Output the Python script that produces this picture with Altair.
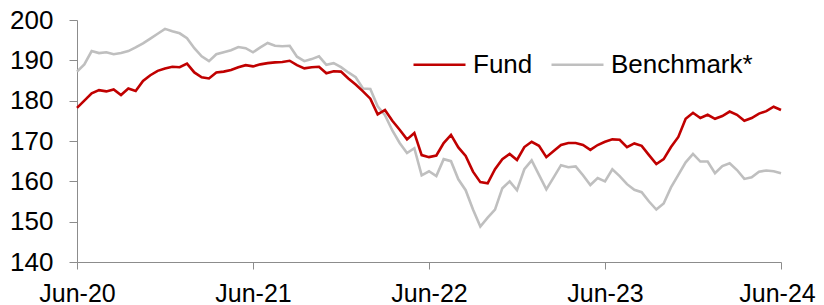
import json
import altair as alt
import pandas as pd

tick_labels = ["Jun-20", "Jun-21", "Jun-22", "Jun-23", "Jun-24"]
tick_months = [0, 12, 24, 36, 48]
series_names = ["Fund", "Benchmark*"]
series_colors = ["#C00000", "#BFBFBF"]

# semi-monthly readings, Jun-20 .. Jun-24
fund = [
    178.2, 180.0, 181.8, 182.6, 182.3, 182.8, 181.4, 183.0, 182.4, 184.9,
    186.3, 187.4, 188.0, 188.4, 188.3, 189.2, 187.0, 185.8, 185.5, 187.0,
    187.2, 187.6, 188.3, 188.8, 188.5, 189.0, 189.3, 189.5, 189.6, 189.9,
    188.8, 188.0, 188.3, 188.4, 186.8, 187.3, 187.2, 185.5, 184.0, 182.3,
    180.5, 176.6, 177.7, 175.0, 172.8, 170.4, 172.0, 166.5, 166.0, 166.4,
    169.5, 171.5, 168.4, 166.3, 162.4, 159.8, 159.5, 163.0, 165.5, 166.8,
    165.3, 168.5, 169.8, 168.8, 166.0, 167.5, 169.0, 169.5, 169.5, 169.0,
    167.8, 169.0, 169.8, 170.4, 170.3, 168.5, 169.4, 168.8, 166.5, 164.3,
    165.5, 168.5, 171.0, 175.5, 177.0, 175.7, 176.5, 175.5, 176.2, 177.3,
    176.5, 175.0, 175.7, 176.8, 177.4, 178.5, 177.7,
]
bench = [
    187.2, 189.0, 192.3, 191.8, 192.0, 191.5, 191.8, 192.3, 193.2, 194.2,
    195.4, 196.6, 197.8, 197.2, 196.7, 195.5, 193.0, 191.0, 189.8, 191.5,
    192.0, 192.5, 193.3, 193.0, 192.0, 193.2, 194.3, 193.6, 193.5, 193.6,
    190.9, 189.8, 190.3, 191.0, 188.9, 189.3, 188.3, 187.0, 185.8, 183.0,
    182.9, 178.6, 176.4, 172.6, 169.5, 167.0, 168.2, 161.5, 162.5, 161.3,
    165.5, 165.0, 160.5, 157.8, 153.0, 148.8, 151.0, 153.0, 158.3, 160.0,
    157.8, 163.0, 165.2, 161.6, 158.0, 161.0, 164.0, 163.5, 163.7, 161.5,
    159.1, 160.8, 160.0, 163.0, 161.3, 159.3, 157.9, 157.3, 155.0, 153.0,
    154.5, 158.5, 161.6, 164.7, 166.8, 164.9, 164.9, 162.0, 163.8, 164.5,
    162.8, 160.6, 161.0, 162.4, 162.7, 162.5, 162.0,
]

months = [i * 0.5 for i in range(len(fund))]
rows = []
for m, v in zip(months, bench):
    rows.append({"t": m, "series": "Benchmark*", "value": v})
for m, v in zip(months, fund):
    rows.append({"t": m, "series": "Fund", "value": v})
df = pd.DataFrame(rows)

FONT = "Liberation Sans"
AXIS_COLOR = "#8C8C8C"
label_expr = json.dumps(tick_labels) + "[round(datum.value / 12)]"

chart = alt.Chart(df).mark_line(strokeWidth=2.6).encode(
    x=alt.X(
        "t:Q",
        scale=alt.Scale(domain=[0, 48], nice=False, zero=False),
        axis=alt.Axis(
            values=tick_months, labelExpr=label_expr, title=None, grid=False,
            domainColor=AXIS_COLOR, tickColor=AXIS_COLOR, tickSize=7,
            labelFont=FONT, labelFontSize=25, labelColor="#000000",
            labelPadding=12, labelFlush=False, labelOverlap=False, labelBound=False,
            labelOffset={"condition": {"test": "datum.value == 48", "value": -4}, "value": 0},
        ),
    ),
    y=alt.Y(
        "value:Q",
        scale=alt.Scale(domain=[140, 200], nice=False, zero=False),
        axis=alt.Axis(
            values=[140, 150, 160, 170, 180, 190, 200], title=None, grid=False,
            domainColor=AXIS_COLOR, tickColor=AXIS_COLOR, tickSize=8,
            labelFont=FONT, labelFontSize=26, labelColor="#000000",
            labelPadding=16, labelFlush=False, labelOverlap=False, labelBound=False,
        ),
    ),
    color=alt.Color(
        "series:N",
        scale=alt.Scale(domain=series_names, range=series_colors),
        legend=alt.Legend(
            title=None, orient="none", legendX=335, legendY=17,
            direction="horizontal", symbolType="stroke", symbolSize=2704,
            symbolStrokeWidth=2.6, labelFont=FONT, labelFontSize=26,
            labelColor="#000000", labelOffset=6, columnPadding=13, padding=0,
        ),
    ),
).properties(
    width=704,
    height=242,
    autosize=alt.AutoSizeParams(type="none"),
    padding={"left": 69, "top": 12, "right": 35, "bottom": 43},
).configure_view(stroke=None)

chart.save("out.html", embed_options={"renderer": "svg", "actions": False})
